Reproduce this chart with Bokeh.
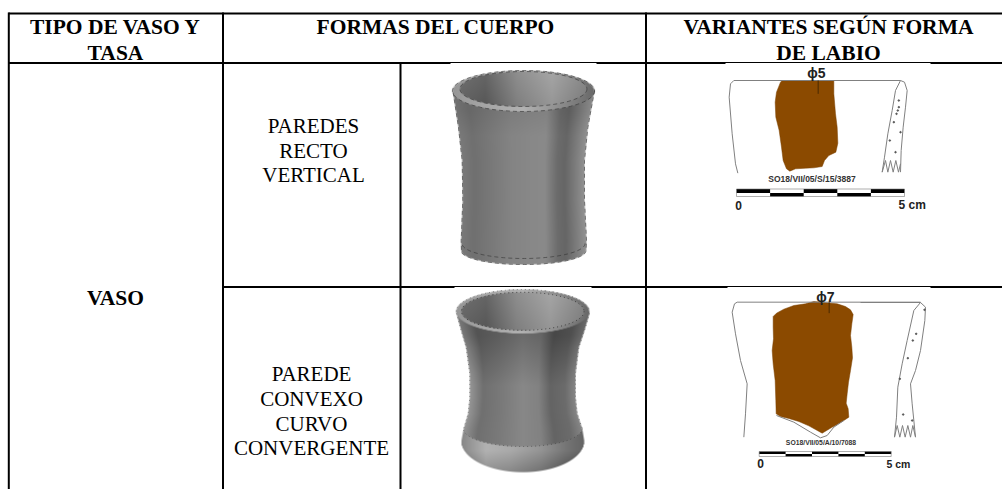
import numpy as np
from bokeh.plotting import figure
from bokeh.models import Range1d
from bokeh.core.properties import value
from bokeh.embed import file_html
from bokeh.resources import INLINE

# ---- table texts ----
header_labels = ["TIPO DE VASO Y", "TASA", "FORMAS DEL CUERPO", "VARIANTES SEGÚN FORMA", "DE LABIO"]
header_x = [115, 115, 435.5, 828, 828]
header_y = [26, 52, 26, 26, 52]
type_label = ["VASO"]
form_labels = ["PAREDES", "RECTO", "VERTICAL", "PAREDE", "CONVEXO", "CURVO", "CONVERGENTE"]
form_x = [313, 313, 313, 311, 311, 311, 311]
form_y = [125, 150, 174, 373, 398, 423, 447]

# ---- sherd labels ----
diam_labels = ["ϕ5", "ϕ7"]
code_labels = ["SO18/VII/05/S/15/3887", "SO18/VII/05/A/10/7088"]
scale_start = ["0", "0"]
scale_end = ["5 cm", "5 cm"]

W, H = 1002, 489
p = figure(width=W, height=H, output_backend="svg", toolbar_location=None,
           x_range=Range1d(0, W), y_range=Range1d(H, 0),
           min_border=0, min_border_left=0, min_border_right=0, min_border_top=0, min_border_bottom=0,
           outline_line_color=None, background_fill_color="white", border_fill_color="white")
p.axis.visible = False
p.grid.visible = False


def ell(cx, cy, rx, ry, a0=0.0, a1=2 * np.pi, n=90):
    t = np.linspace(a0, a1, n)
    return cx + rx * np.cos(t), cy + ry * np.sin(t)


def render(x0, y0, w, h, rim, inner, ly, lx, ry_, rx_, bottom, body_fn, foot=None, foot_fn=None):
    xs, ys = np.meshgrid(np.arange(w) + x0 + 0.5, np.arange(h) + y0 + 0.5)
    L = np.interp(ys, ly, lx)
    R = np.interp(ys, ry_, rx_)
    bx, by, brx, bry = bottom
    u = np.clip((xs - bx) / brx, -1, 1)
    yb = by + bry * np.sqrt(1 - u ** 2)
    a = np.clip(xs - L + .5, 0, 1) * np.clip(R - xs + .5, 0, 1) * np.clip(yb - ys + .5, 0, 1)
    a = a * (ys > rim[1])
    t = (xs - rim[0]) / ((R - L) / 2 + 1e-6)
    g = body_fn(t, ys)
    if foot is not None:
        fx, fy, frx, fry = foot
        uf = np.clip((xs - fx) / frx, -1, 1)
        yf = fy + fry * np.sqrt(1 - uf ** 2)
        m = np.clip(ys - yf + .5, 0, 1)
        g = g * (1 - m) + foot_fn(t, ys) * m
    # rim ellipse
    cx, cy, rx, ry = rim
    d = np.sqrt(((xs - cx) / rx) ** 2 + ((ys - cy) / ry) ** 2)
    rim_a = np.clip((1 - d) * min(rx, ry) * 2 + .5, 0, 1)
    tr = (xs - cx) / rx
    rim_g = np.interp(tr, [-1, -.6, 0, .6, 1], [150, 165, 178, 135, 105])
    g = g * (1 - rim_a) + rim_g * rim_a
    a = np.maximum(a, rim_a)
    # interior
    ix, iy, irx, iry = inner
    d = np.sqrt(((xs - ix) / irx) ** 2 + ((ys - iy) / iry) ** 2)
    in_a = np.clip((1 - d) * min(irx, iry) * 2 + .5, 0, 1)
    ti = (xs - ix) / irx
    in_g = np.interp(ti, [-1, -.6, -.1, .45, 1], [105, 95, 135, 158, 130]) + (ys - iy) / iry * -8
    g = g * (1 - in_a) + in_g * in_a
    # white background blended
    out = g * a + 255 * (1 - a)
    v = np.clip(out, 0, 255).astype(np.uint32)
    return 255 << 24 | v << 16 | v << 8 | v


def body1(t, ys):
    base = np.interp(t, [-1, -.8, -.5, -.2, .1, .35, .55, .68, .85, 1],
                     [122, 112, 122, 132, 136, 138, 108, 102, 125, 146])
    return base - 8 * np.clip((135 - ys) / 25, 0, 1)


def body2(t, ys):
    base = np.interp(t, [-1, -.75, -.4, 0, .3, .52, .8, 1], [150, 112, 122, 136, 130, 100, 108, 135])
    return base - 28 * np.clip((385 - ys) / 50, 0, 1)


def foot2(t, ys):
    base = np.interp(t, [-1, -.6, -.2, .3, .7, 1], [135, 178, 170, 148, 118, 100])
    return base - 35 * np.clip((ys - 450) / 22, 0, 1)


v1 = render(440, 65, 170, 205, (523, 90.5, 71, 20.5), (523, 88.5, 63.5, 17.5),
            [90, 92, 127, 160, 200, 240, 264], [452.5, 452.7, 458, 461.7, 462.3, 460.7, 461],
            [90, 127, 160, 200, 240, 264], [594, 587.3, 584, 584, 586, 585.5],
            (523, 250, 62.5, 14), body1)
v2 = render(440, 288, 170, 190, (522.3, 311, 66.5, 22), (522.3, 310.8, 61.3, 19),
            [311, 313, 330, 347, 373, 397, 413, 428, 440, 475],
            [456, 456, 460.7, 465.7, 469.3, 469.3, 467.7, 463.3, 461, 461],
            [311, 313, 330, 347, 373, 397, 413, 428, 440, 475],
            [589, 589, 584, 578.3, 575, 575, 576.7, 581.7, 583.7, 583.7],
            (522.3, 440, 61.7, 31.7), body2, (522.3, 428, 59.5, 18), foot2)

# ---- table rules ----
p.segment(x0=[8, 8, 222.5], y0=[13, 62.5, 286.5], x1=[W, W, W], y1=[13, 62.5, 286.5],
          line_color="black", line_width=2)
p.segment(x0=[8.3, 222.5, 645.5, 400], y0=[12, 12, 12, 62.5], x1=[8.3, 222.5, 645.5, 400], y1=[H, H, H, H],
          line_color="black", line_width=2)
# picture boxes that slightly overlap the rules
p.quad(left=[450, 454, 725, 727], right=[596, 591, 930, 930], top=[62.6, 286.6, 62.6, 286.6],
       bottom=[66, 290, 66, 290], fill_color="white", line_color=None)

# ---- vessels ----
p.image_rgba(image=[v1], x=[440], y=[65], dw=[170], dh=[205])
p.image_rgba(image=[v2], x=[440], y=[288], dw=[170], dh=[190])

dash = dict(line_color="#333333", line_width=0.6, line_dash="4 3")
fine = dict(line_color="#333333", line_width=0.5, line_dash="1 3")
for cx, cy, rx, ry in [(523, 90.5, 71, 20.5), (523, 88.5, 63.5, 17.5)]:
    ex, ey = ell(cx, cy, rx, ry)
    p.line(ex, ey, **dash)
ex, ey = ell(522.3, 310.8, 61.3, 19)
p.line(ex, ey, line_color="#222222", line_width=0.7, line_dash="1 3")
ex, ey = ell(522.3, 311, 66.5, 22, np.pi, 2 * np.pi)
p.line(ex, ey, **fine)
ex, ey = ell(523, 243, 61.5, 15, 0, np.pi)
p.line(ex, ey, **dash)
ex, ey = ell(523, 250, 62.5, 14, 0, np.pi)
p.line(ex, ey, **dash)
ex, ey = ell(522.3, 428, 59.5, 18, 0, np.pi)
p.line(ex, ey, **fine)
p.line([452.7, 458, 461.7, 462.3, 460.7, 461], [92, 127, 160, 200, 240, 250], **dash)
p.line([594, 587.3, 584, 584, 586, 585.5], [90, 127, 160, 200, 240, 250], **dash)
p.line([456, 460.7, 465.7, 469.3, 469.3, 467.7, 463.3], [313, 330, 347, 373, 397, 413, 428], **fine)
p.line([589, 584, 578.3, 575, 575, 576.7, 581.7], [313, 330, 347, 373, 397, 413, 428], **fine)


# ---- sherds ----
def zmap(pts, ox, oy):
    return [ox + a / 3 for a, b in pts], [oy + b / 3 for a, b in pts]


OUT = dict(line_color="#808080", line_width=1)
brown = "#8B4A00"

# sherd 1
bx, by = zmap([(300, 65), (305, 60), (460, 60), (460, 100), (465, 160), (470, 200), (472, 248), (466, 275), (445, 285), (432, 300),
               (425, 318), (400, 322), (375, 323), (345, 325), (328, 332), (318, 325), (308, 300), (303, 260), (296, 210),
               (286, 170), (284, 125), (288, 95)], 680, 60)
p.patch(bx, by, fill_color=brown, line_color="#7a4000", line_width=0.5)
for pts in [
    [(172, 338), (165, 310), (155, 220), (146, 110), (150, 70), (160, 60), (660, 60), (672, 65), (680, 90), (675, 140),
     (668, 200), (662, 270), (660, 335)],
    [(660, 60), (645, 90), (635, 150), (622, 220), (612, 290), (605, 335), (615, 300), (622, 335), (630, 300), (638, 335),
     (646, 300), (654, 335), (660, 310)],
]:
    a, b = zmap(pts, 680, 60)
    p.line(a, b, **OUT)
a, b = zmap([(413, 60), (413, 100)], 680, 60)
p.line(a, b, line_color="#4a2a00", line_width=1)
sx, sy = zmap([(655, 120), (652, 150), (640, 185), (660, 215), (628, 240), (645, 275), (655, 140), (648, 160)], 680, 60)
p.scatter(sx, sy, size=1.5, color="#555555")

# sherd 2
bx, by = zmap([(278, 108), (288, 98), (310, 86), (340, 75), (375, 70), (400, 63), (430, 66), (470, 70), (495, 78), (510, 88),
               (518, 102), (514, 130), (510, 165), (514, 200), (516, 232), (510, 270), (504, 305), (500, 340), (497, 368),
               (503, 385), (505, 410), (490, 420), (470, 432), (452, 442), (425, 458), (405, 447), (385, 436), (355, 423),
               (325, 414), (300, 408), (287, 400), (286, 360), (284, 300), (278, 250), (275, 210), (279, 175), (278, 140)],
              680, 280)
p.patch(bx, by, fill_color=brown, line_color="#7a4000", line_width=0.5)
for pts in [
    [(190, 470), (195, 400), (200, 310), (180, 240), (165, 160), (155, 95), (162, 70), (170, 65), (720, 65)],
    [(288, 405), (340, 425), (390, 455), (420, 472), (440, 465), (460, 440), (490, 420)],
]:
    a, b = zmap(pts, 680, 280)
    p.line(a, b, **OUT)
a, b = zmap([(0, 36), (180, 36), (195, 50), (193, 90), (180, 180), (165, 240), (150, 280), (155, 340), (165, 440),
             (157, 405), (150, 440), (142, 405), (134, 440), (126, 405), (118, 440), (110, 405), (102, 440),
             (108, 380), (112, 290), (125, 220), (140, 150), (160, 60), (180, 36)], 860, 290)
p.line(a, b, **OUT)
a, b = zmap([(446, 65), (446, 98)], 680, 280)
p.line(a, b, line_color="#4a2a00", line_width=1)
sx, sy = zmap([(192, 58), (167, 130), (157, 150), (142, 203), (118, 265), (128, 372), (155, 390)], 860, 290)
p.scatter(sx, sy, size=1.5, color="#555555")


# scale bars: five alternating blocks
def scale(x0, x1, y0, ym, y1):
    e = np.linspace(x0, x1, 6)
    p.quad(left=e[:-1], right=e[1:], top=[y0] * 5, bottom=[y1] * 5, fill_color="white", line_color=None)
    p.quad(left=e[[0, 2, 4]], right=e[[1, 3, 5]], top=[y0] * 3, bottom=[ym] * 3, fill_color="black", line_color=None)
    p.quad(left=e[[1, 3]], right=e[[2, 4]], top=[ym] * 2, bottom=[y1] * 2, fill_color="black", line_color=None)
    p.segment(x0=[x0, x0], y0=[y0, y1], x1=[x1, x1], y1=[y0, y1], line_color="#777777", line_width=0.6)
    p.segment(x0=[x0, x1], y0=[y0, y0], x1=[x0, x1], y1=[y1, y1], line_color="#777777", line_width=0.6)


scale(736, 904, 188.5, 192.5, 196)
scale(758.7, 890.7, 451, 453.5, 456)

# ---- text ----
serif = value("Liberation Serif")
sans = value("Liberation Sans")
p.text(header_x, header_y, text=header_labels, text_font=serif, text_font_size="21.5px", text_font_style="bold",
       text_align="center", text_baseline="middle", text_color="black")
p.text([115], [297], text=type_label, text_font=serif, text_font_size="21.5px", text_font_style="bold",
       text_align="center", text_baseline="middle", text_color="black")
p.text(form_x, form_y, text=form_labels, text_font=serif, text_font_size="21px",
       text_align="center", text_baseline="middle", text_color="black")
p.text([816, 825], [72, 296], text=diam_labels, text_font=sans, text_font_size="14px", text_font_style="bold",
       text_align="center", text_baseline="middle", text_color="#222222")
p.text([811.5], [178], text=code_labels[:1], text_font=sans, text_font_size="8.5px", text_font_style="bold",
       text_align="center", text_baseline="middle", text_color="#333333")
p.text([820.5], [442], text=code_labels[1:], text_font=sans, text_font_size="6.8px", text_font_style="bold",
       text_align="center", text_baseline="middle", text_color="#333333")
p.text([738, 760], [205, 463], text=scale_start, text_font=sans, text_font_size="12px", text_font_style="bold",
       text_align="center", text_baseline="middle", text_color="#222222")
p.text([898], [204], text=scale_end[:1], text_font=sans, text_font_size="12px", text_font_style="bold",
       text_align="left", text_baseline="middle", text_color="#222222")
p.text([886], [463], text=scale_end[1:], text_font=sans, text_font_size="10.5px", text_font_style="bold",
       text_align="left", text_baseline="middle", text_color="#222222")

open("out.html", "w").write(file_html(p, INLINE))
